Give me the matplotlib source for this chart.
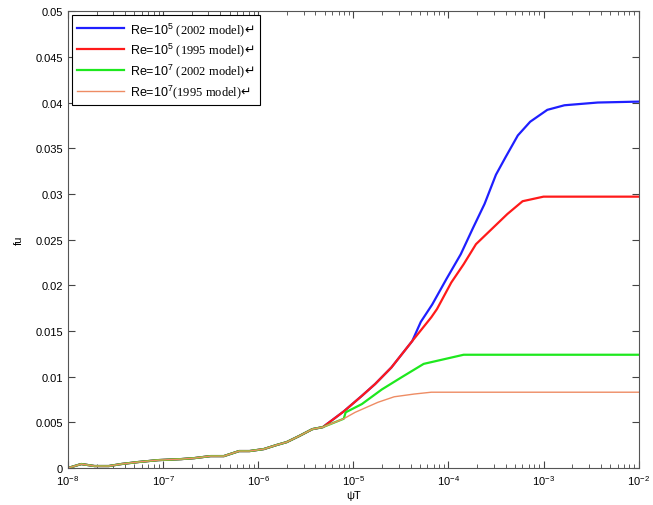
import numpy as np
import matplotlib.pyplot as plt
from matplotlib.ticker import NullFormatter

plt.rcParams['font.family'] = ['Liberation Sans', 'DejaVu Sans']
plt.rcParams['mathtext.fontset'] = 'custom'
plt.rcParams['mathtext.rm'] = 'Liberation Serif'
plt.rcParams['mathtext.sf'] = 'Liberation Sans'
plt.rcParams['mathtext.it'] = 'Liberation Sans:italic'
plt.rcParams['mathtext.tt'] = 'DejaVu Sans'

# shared low end of all four curves (log10 of psi*T, fu)
lg_common = [-8.0, -7.86, -7.72, -7.57, -7.44, -7.26, -7.05, -6.81, -6.67, -6.5,
             -6.36, -6.2, -6.09, -5.94, -5.81, -5.7, -5.57, -5.43, -5.32]
fu_common = [0, 0.00044, 0.00022, 0.00022, 0.00044, 0.00066, 0.00087, 0.00098,
             0.00109, 0.00131, 0.00131, 0.00186, 0.00186, 0.00208, 0.00251,
             0.00284, 0.0035, 0.00426, 0.00448]

# Re=1e5, 2002 model
lg_re5_2002 = [-5.1, -4.91, -4.77, -4.6, -4.38, -4.29, -4.17, -4.02, -3.87, -3.74,
               -3.62, -3.5, -3.4, -3.27, -3.14, -2.96, -2.78, -2.43, -2.0]
fu_re5_2002 = [0.0062, 0.0079, 0.0092, 0.011, 0.0139, 0.016, 0.0179, 0.0207, 0.0234,
               0.0263, 0.0289, 0.0321, 0.034, 0.0364, 0.0379, 0.0392, 0.0397, 0.04, 0.0401]

# Re=1e5, 1995 model
lg_re5_1995 = [-5.1, -4.91, -4.77, -4.6, -4.38, -4.18, -4.12, -3.97, -3.84, -3.71,
               -3.55, -3.38, -3.22, -3.0, -2.0]
fu_re5_1995 = [0.0062, 0.0079, 0.0092, 0.011, 0.0139, 0.0165, 0.0174, 0.0203, 0.0223,
               0.0245, 0.0261, 0.0278, 0.0292, 0.0297, 0.0297]

# Re=1e7, 2002 model
lg_re7_2002 = [-5.1, -5.08, -4.91, -4.7, -4.49, -4.26, -4.05, -3.84, -2.0]
fu_re7_2002 = [0.0054, 0.0061, 0.007, 0.0086, 0.00995, 0.0114, 0.0119, 0.0124, 0.0124]

# Re=1e7, 1995 model
lg_re7_1995 = [-5.1, -4.98, -4.74, -4.57, -4.36, -4.18, -2.0]
fu_re7_1995 = [0.0054, 0.0061, 0.0072, 0.0078, 0.0081, 0.0083, 0.0083]

labels = [r'Re=10$^\mathsf{5}$ $\mathrm{(2002\ model)}\mathtt{' + '\u21b5' + '}$',
          r'Re=10$^\mathsf{5}$ $\mathrm{(1995\ model)}\mathtt{' + '\u21b5' + '}$',
          r'Re=10$^\mathsf{7}$ $\mathrm{(2002\ model)}\mathtt{' + '\u21b5' + '}$',
          r'Re=10$^\mathsf{7}$$\mathrm{(1995\ model)}\mathtt{' + '\u21b5' + '}$']


def full(lg, fu):
    x = 10 ** np.array(lg_common + lg)
    y = np.array(fu_common + fu)
    return x, y


fig = plt.figure(figsize=(6.53, 5.06), dpi=100)
ax = fig.add_axes([0.104, 0.073, 0.874, 0.903])

x, y = full(lg_re5_2002, fu_re5_2002)
ax.plot(x, y, color='#1f1fff', lw=1.6, label=labels[0])
x, y = full(lg_re5_1995, fu_re5_1995)
ax.plot(x, y, color='#ff1a1a', lw=1.6, label=labels[1])
x, y = full(lg_re7_2002, fu_re7_2002)
ax.plot(x, y, color='#1ee81e', lw=1.6, label=labels[2])
x, y = full(lg_re7_1995, fu_re7_1995)
ax.plot(x, y, color='#ee8c64', lw=1.0, label=labels[3])

ax.set_xscale('log')
ax.set_xlim(1e-8, 1e-2)
ax.xaxis.set_minor_formatter(NullFormatter())
ax.set_ylim(0, 0.05)
ax.set_yticks(np.arange(0, 0.0501, 0.005))
ax.set_yticklabels(['0', '0.005', '0.01', '0.015', '0.02', '0.025', '0.03',
                    '0.035', '0.04', '0.045', '0.05'])
ax.tick_params(which='both', direction='in', top=True, right=True, labelsize=8,
               color='#444444')
ax.tick_params(which='major', length=5)
ax.tick_params(which='minor', length=3)
for s in ax.spines.values():
    s.set_color('#555555')

ax.set_xlabel('\u03c8T', fontsize=8, labelpad=2)
ax.set_ylabel('fu', fontsize=8, labelpad=8)

leg = ax.legend(loc='upper left', fontsize=9, handlelength=3.8, fancybox=False,
                edgecolor='black', framealpha=1, borderaxespad=0.3,
                labelspacing=0.25, handletextpad=0.5)
leg.get_frame().set_linewidth(0.8)

fig.savefig('out.png', dpi=100)
